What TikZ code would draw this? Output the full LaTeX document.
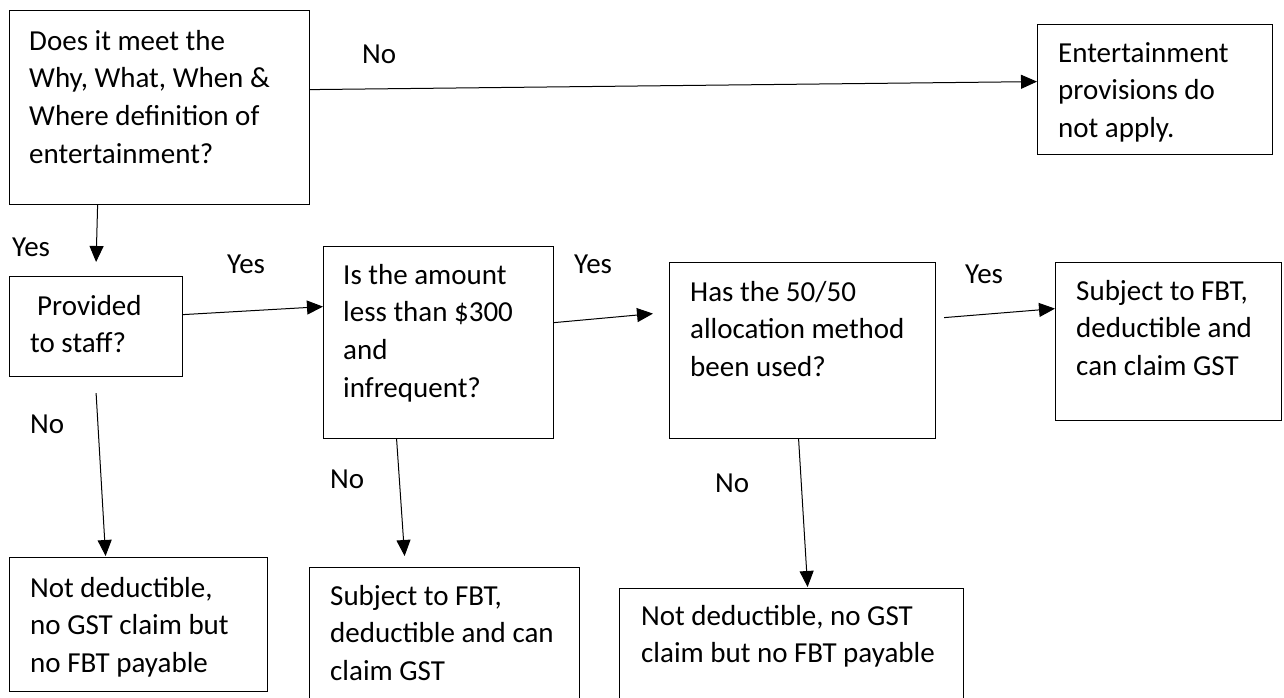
\documentclass[tikz,border=0pt]{standalone}
\usepackage{fontspec}
\setmainfont{Carlito}
\usetikzlibrary{arrows.meta}
\begin{document}
\begin{tikzpicture}[x=1pt,y=-1pt,
  box/.style={draw, line width=1.2pt, rectangle, inner sep=0pt, anchor=north west},
  txt/.style={inner sep=0pt, anchor=base west, font=\fontsize{29pt}{37.7pt}\selectfont},
  lbl/.style={inner sep=0pt, anchor=base west, font=\fontsize{29pt}{37.7pt}\selectfont},
  conn/.style={line width=1pt, -{Triangle[length=16pt,width=14pt]}},
  plain/.style={line width=1pt}
]
\useasboundingbox (0,0) rectangle (1284,697);
% boxes
\node[box, minimum width=300pt, minimum height=194pt] (A) at (9,10) {};
\node[box, minimum width=235pt, minimum height=130pt] (E) at (1037,24) {};
\node[box, minimum width=173pt, minimum height=100pt] (B) at (9,276) {};
\node[box, minimum width=230pt, minimum height=192pt] (C) at (323,246) {};
\node[box, minimum width=266pt, minimum height=176pt] (D) at (669,262) {};
\node[box, minimum width=226pt, minimum height=158pt] (F) at (1055,262) {};
\node[box, minimum width=258pt, minimum height=134pt] (G) at (9,557) {};
\node[box, minimum width=270pt, minimum height=160pt] (H) at (309,567) {};
\node[box, minimum width=344pt, minimum height=140pt] (I) at (619,588) {};
% box texts
\node[txt] (At) at (29,50) {\parbox[t]{300pt}{Does it meet the\\Why, What, When \&\\Where definition of\\entertainment?}};
\node[txt] (Et) at (1058,62) {\parbox[t]{220pt}{Entertainment\\provisions do\\not apply.}};
\node[txt] (Bt) at (30,315) {\parbox[t]{160pt}{\hspace*{7pt}Provided\\to staff?}};
\node[txt] (Ct) at (343,284) {\parbox[t]{220pt}{Is the amount\\less than \$300\\and\\infrequent?}};
\node[txt] (Dt) at (690,301) {\parbox[t]{250pt}{Has the 50/50\\allocation method\\been used?}};
\node[txt] (Ft) at (1076,300) {\parbox[t]{210pt}{Subject to FBT,\\deductible and\\can claim GST}};
\node[txt] (Gt) at (30,597) {\parbox[t]{240pt}{Not deductible,\\no GST claim but\\no FBT payable}};
\node[txt] (Ht) at (330,605) {\parbox[t]{250pt}{Subject to FBT,\\deductible and can\\claim GST}};
\node[txt] (It) at (641,625) {\parbox[t]{330pt}{Not deductible, no GST\\claim but no FBT payable}};
% labels
\node[lbl] (l1) at (362,63) {No};
\node[lbl] (l2) at (12,256) {Yes};
\node[lbl] (l3) at (227,273) {Yes};
\node[lbl] (l4) at (574,273) {Yes};
\node[lbl] (l5) at (965,283) {Yes};
\node[lbl] (l6) at (30,433) {No};
\node[lbl] (l7) at (330,488) {No};
\node[lbl] (l8) at (715,492) {No};
% connectors
\draw[conn] ([yshift=18pt]A.east) -- ([yshift=8pt]E.west);
\draw[conn] ([xshift=-62pt]A.south) -- ([yshift=14pt]B.north);
\draw[conn] ([yshift=12pt]B.east) -- ([yshift=36pt]C.west);
\draw[conn] ([yshift=20pt]C.east) -- ([xshift=-16pt,yshift=37pt]D.west);
\draw[conn] ([xshift=8pt,yshift=33pt]D.east) -- ([yshift=33pt]F.west);
\draw[conn] ([yshift=-16pt]B.south) -- ([xshift=-33pt,yshift=1pt]G.north);
\draw[conn] ([xshift=-42pt]C.south) -- ([xshift=-40pt,yshift=11pt]H.north);
\draw[conn] ([xshift=-4pt]D.south) -- ([xshift=16pt,yshift=1pt]I.north);
\end{tikzpicture}
\end{document}
